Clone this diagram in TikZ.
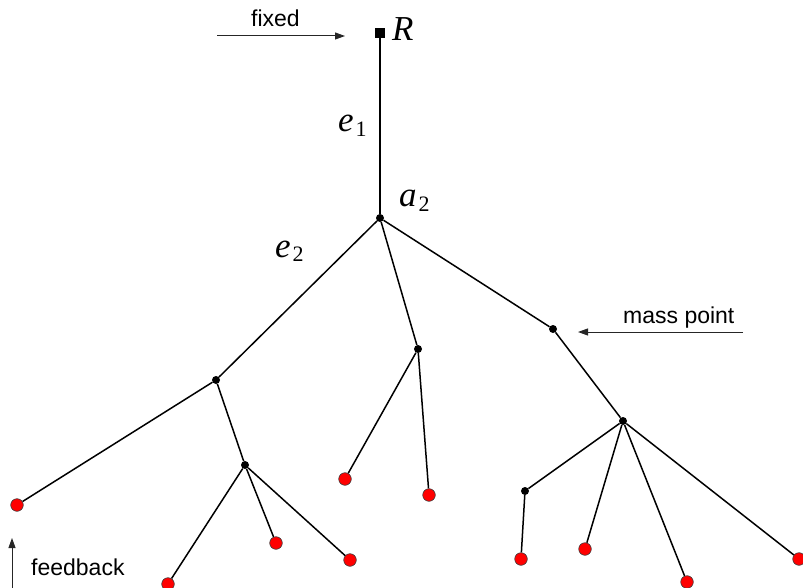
\documentclass[tikz,border=0pt]{standalone}
\usepackage{fontspec}
\setmainfont{Liberation Sans}
\newfontfamily\serifit{Liberation Serif}
\usetikzlibrary{arrows.meta}

\newcommand{\symlbl}[2]{{\serifit\fontsize{35}{36}\selectfont\itshape #1}\kern2pt{\serifit\fontsize{22}{24}\selectfont\raisebox{-5pt}{#2}}}

\begin{document}
\begin{tikzpicture}[
x=1pt, y=-1pt,
mass/.style={circle, fill=black, inner sep=0pt, minimum size=8pt},
leaf/.style={circle, fill=red, draw=black!75, line width=0.6pt, inner sep=0pt, minimum size=12.6pt},
anchorpt/.style={rectangle, fill=black, inner sep=0pt, minimum size=10pt},
edge/.style={line width=1.5pt, black},
pointer/.style={-{Triangle[length=10pt, width=7pt]}, line width=1pt, black!85},
note/.style={anchor=base west, inner sep=0pt, font=\fontsize{23}{26}\selectfont},
sym/.style={anchor=base west, inner sep=0pt}
]
\useasboundingbox (0,0) rectangle (803,588);

% inner mass points
\node[anchorpt] (R) at (380,33) {};
\node[mass] (a2) at (380,218) {};
\node[mass] (b1) at (216,380) {};
\node[mass] (b2) at (418,349) {};
\node[mass] (b3) at (553,329) {};
\node[mass] (c1) at (245,465) {};
\node[mass] (c2) at (623,421) {};
\node[mass] (c3) at (525,491) {};

% leaves
\node[leaf] (l1) at (17,505) {};
\node[leaf] (l2) at (168,584) {};
\node[leaf] (l3) at (276,543) {};
\node[leaf] (l4) at (350,560) {};
\node[leaf] (l5) at (345,479) {};
\node[leaf] (l6) at (429,495) {};
\node[leaf] (l7) at (521,559) {};
\node[leaf] (l8) at (585,549) {};
\node[leaf] (l9) at (687,582) {};
\node[leaf] (l10) at (799,559) {};

% edges
\foreach \u/\v in {R/a2, a2/b1, a2/b2, a2/b3, b1/l1, b1/c1, c1/l2, c1/l3, c1/l4,
  b2/l5, b2/l6, b3/c2, c2/c3, c2/l8, c2/l9, c2/l10, c3/l7}
  \draw[edge] (\u) -- (\v);

% labels
\node[sym] (lR) at (392,41) {{\serifit\fontsize{35}{36}\selectfont\itshape R}};
\node[sym] (le1) at (338,132) {\symlbl{e}{1}};
\node[sym] (la2) at (399,207) {\symlbl{a}{2}};
\node[sym] (le2) at (275,257) {\symlbl{e}{2}};

% annotations
\node[note] (tfixed) at (251,27) {fixed};
\coordinate (fixedA) at (217,36);
\coordinate (fixedB) at (345,36);
\draw[pointer] (fixedA) -- (fixedB);

\node[note] (tmass) at (623,323) {mass point};
\coordinate (massA) at (743,332);
\coordinate (massB) at (578,332);
\draw[pointer] (massA) -- (massB);

\node[note] (tfeed) at (31,575) {feedback};
\coordinate (feedA) at (12,592);
\coordinate (feedB) at (12,538);
\draw[pointer] (feedA) -- (feedB);
\end{tikzpicture}
\end{document}
